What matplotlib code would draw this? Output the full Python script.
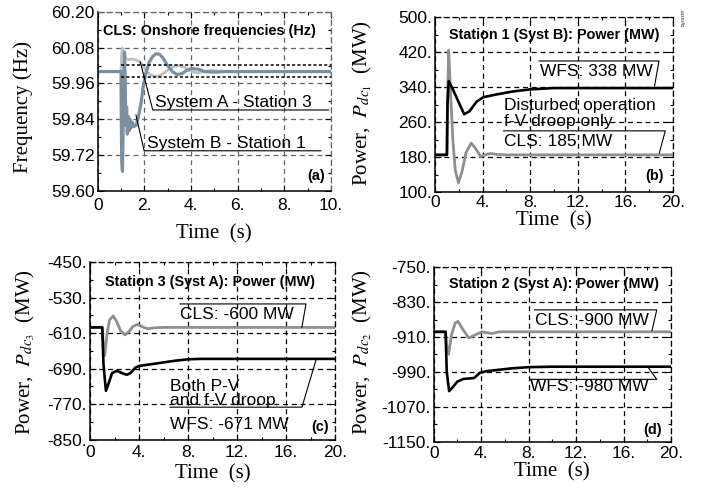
import matplotlib
matplotlib.use('Agg')
import matplotlib.pyplot as plt
import numpy as np

plt.rcParams['font.family'] = ['Liberation Sans', 'DejaVu Sans']
plt.rcParams['mathtext.fontset'] = 'stix'

# ---------------- data ----------------
# (a) onshore frequencies (Hz)
t_a_sysA = [0, 1.0, 1.02, 1.05, 1.08, 1.12, 1.2, 1.3, 1.45, 1.6, 1.75, 1.9, 2.0, 2.1, 2.25, 2.4,
            2.55, 2.7, 2.9, 3.1, 3.3, 3.5, 3.7, 3.9, 4.1, 4.3, 4.6, 4.9, 5.3, 10]
f_a_sysA = [60.0, 60.0, 60.05, 60.078, 60.075, 60.06, 60.045, 60.04, 60.042, 60.04, 60.035, 60.025,
            60.012, 60.0, 59.99, 59.985, 59.984, 59.988, 59.998, 60.01, 60.018, 60.02, 60.015, 60.005,
            59.998, 59.996, 60.0, 60.004, 60.001, 60.0]
t_a_sysB = [0, 1.0, 1.01, 1.03, 1.06, 1.09, 1.12, 1.15, 1.18, 1.21, 1.24, 1.27, 1.3, 1.34, 1.38,
            1.42, 1.48, 1.55, 1.65, 1.75, 1.85, 1.95, 2.05, 2.2, 2.35, 2.5, 2.65, 2.8, 3.0, 3.2,
            3.4, 3.6, 3.8, 4.0, 4.3, 4.6, 5.0, 5.5, 10]
f_a_sysB = [60.0, 60.0, 59.85, 59.70, 59.665, 59.80, 60.0, 60.065, 59.95, 59.82, 59.88, 59.79,
            59.85, 59.80, 59.84, 59.81, 59.83, 59.815, 59.82, 59.85, 59.89, 59.95, 59.99, 60.03,
            60.05, 60.06, 60.058, 60.045, 60.02, 60.0, 59.99, 59.993, 60.003, 60.01, 60.008,
            60.0, 59.998, 60.0, 60.0]
f_band = [60.022, 59.982]

# (b) Station 1 (Syst B) power (MW)
t_b_cls = [0, 1.0, 1.05, 1.15, 1.3, 1.5, 1.7, 1.97, 2.3, 2.6, 3.04, 3.4, 3.83, 4.2, 4.67, 5.2, 6, 20]
p_b_cls = [185, 185, 300, 425, 330, 220, 150, 121, 150, 190, 212, 200, 181, 185, 188, 186, 185, 185]
t_b_wfs = [0, 1.0, 1.05, 1.15, 1.5, 2.0, 2.45, 2.9, 3.5, 4.06, 5.1, 6.5, 8, 10, 20]
p_b_wfs = [185, 185, 300, 354, 335, 305, 278, 285, 307, 317, 323, 330, 335, 338, 338]

# (c) Station 3 (Syst A) power (MW)
t_c_cls = [0, 1.0, 1.1, 1.2, 1.4, 1.6, 1.9, 2.2, 2.5, 2.86, 3.2, 3.5, 3.9, 4.3, 4.7, 5.2, 6, 20]
p_c_cls = [-597, -597, -640, -660, -610, -580, -571, -585, -605, -614, -606, -595, -590, -596,
           -600, -598, -597, -597]
t_c_wfs = [0, 1.0, 1.1, 1.3, 1.5, 1.8, 2.2, 2.6, 3.0, 3.3, 3.7, 4.0, 5.0, 6.0, 7.0, 8.0, 9.0, 20]
p_c_wfs = [-597, -597, -680, -740, -725, -700, -695, -700, -704, -700, -688, -684, -680, -676,
           -672, -669, -668, -668]

# (d) Station 2 (Syst A) power (MW)
t_d_cls = [0, 1.0, 1.1, 1.25, 1.5, 1.8, 2.05, 2.4, 2.95, 3.5, 4.05, 4.5, 4.9, 5.5, 20]
p_d_cls = [-898, -898, -930, -950, -905, -878, -874, -890, -912, -905, -898, -900, -902, -898, -898]
t_d_wfs = [0, 1.0, 1.1, 1.3, 1.6, 2.0, 2.5, 3.0, 3.4, 3.9, 4.5, 5.5, 6.5, 8, 10, 20]
p_d_wfs = [-898, -898, -990, -1034, -1025, -1012, -1006, -1005, -1004, -992, -988, -985, -982,
           -979, -978, -978]

# ticks
xt_a = [0, 2, 4, 6, 8, 10]
xl_a = ['0', '2.', '4.', '6.', '8.', '10.']
yt_a = [59.60, 59.72, 59.84, 59.96, 60.08, 60.20]
yl_a = ['59.60', '59.72', '59.84', '59.96', '60.08', '60.20']
xt_p = [0, 4, 8, 12, 16, 20]
xl_p = ['0', '4.', '8.', '12.', '16.', '20.']
yt_b = [100, 180, 260, 340, 420, 500]
yt_c = [-850, -770, -690, -610, -530, -450]
yt_d = [-1150, -1070, -990, -910, -830, -750]

# ---------------- figure ----------------
W, H = 704, 498
fig = plt.figure(figsize=(W / 100, H / 100), dpi=100)


def px_axes(l, t, r, b):
    return fig.add_axes([l / W, 1 - b / H, (r - l) / W, (b - t) / H])


def style(ax, xt, xl, yt, yl, gc, xpad):
    ax.set_xlim(xt[0], xt[-1])
    ax.set_ylim(yt[0], yt[-1])
    ax.set_xticks(xt)
    ax.set_xticklabels(xl)
    ax.set_yticks(yt)
    ax.set_yticklabels(yl)
    ax.set_xticks([(a + b) / 2 for a, b in zip(xt[:-1], xt[1:])], minor=True)
    ax.set_yticks([(a + b) / 2 for a, b in zip(yt[:-1], yt[1:])], minor=True)
    ax.tick_params(which='both', direction='in', top=True, right=True, width=0.8,
                   labelsize=12.5, colors='black')
    ax.tick_params(which='major', length=4)
    ax.tick_params(which='minor', length=2.5)
    ax.tick_params(axis='x', pad=xpad)
    ax.tick_params(axis='y', pad=2)
    ax.grid(True, which='major', color=gc, linestyle=(0, (4, 3)), linewidth=0.9)
    ax.set_axisbelow(True)
    for s in ['left', 'bottom']:
        ax.spines[s].set_linewidth(1.1)
        ax.spines[s].set_color('black')
    for s in ['top', 'right']:
        ax.spines[s].set_linestyle((0, (4, 3)))
        ax.spines[s].set_linewidth(0.9)
        ax.spines[s].set_color(gc)


def ftext(x, y, s, **kw):
    fig.text(x / W, 1 - y / H, s, ha='center', va='center', **kw)


serif = dict(family=['Liberation Serif', 'DejaVu Serif'], fontsize=15)
bold = dict(fontsize=10.4, fontweight='bold')
ann = dict(fontsize=12.5)

# (a)
ax = px_axes(97.7, 12, 331, 190.7)
style(ax, xt_a, xl_a, yt_a, yl_a, '#666666', 5)
ax.plot(t_a_sysA, f_a_sysA, color='#c0c0c0', lw=2.0, solid_joinstyle='round')
ax.plot(t_a_sysB, f_a_sysB, color='#7b8fa1', lw=2.3, solid_joinstyle='round')
for fb in f_band:
    ax.plot([1.0, 10], [fb, fb], color='black', lw=1.1, linestyle=(0, (2, 1.5)))
ax.text(0.24, 60.123, 'CLS: Onshore frequencies (Hz)', ha='left', va='baseline', **bold)
ax.text(9.76, 59.636, '(a)', ha='right', va='baseline', **bold)
ax.plot([1.82, 2.36, 9.9], [60.033, 59.871, 59.871], color='black', lw=0.8)
ax.text(2.46, 59.880, 'System A - Station 3', ha='left', va='baseline', **ann)
ax.plot([1.64, 1.99, 9.57], [59.854, 59.734, 59.734], color='black', lw=0.8)
ax.text(2.10, 59.742, 'System B - Station 1', ha='left', va='baseline', **ann)
ftext(23, 107, 'Frequency (Hz)', rotation=90, **serif)
ftext(214, 234, 'Time  (s)', **serif)

# (b)
ax = px_axes(435, 17.3, 673, 192)
style(ax, xt_p, xl_p, yt_b, [f'{v}.' for v in yt_b], 'black', 2.5)
ax.plot(t_b_cls, p_b_cls, color='#8f8f8f', lw=2.0, solid_joinstyle='round')
ax.plot(t_b_wfs, p_b_wfs, color='black', lw=1.9, solid_joinstyle='round')
ax.text(1.15, 449.7, 'Station 1 (Syst B): Power (MW)', ha='left', va='baseline', **bold)
ax.text(19.2, 128, '(b)', ha='right', va='baseline', **bold)
ax.plot([8.74, 18.82, 18.45], [400, 400, 343], color='black', lw=0.8)
ax.text(8.82, 365.8, 'WFS: 338 MW', ha='left', va='baseline', **ann)
ax.text(5.77, 287, 'Disturbed operation', ha='left', va='baseline', **ann)
ax.text(5.77, 252, 'f-V droop only', ha='left', va='baseline', **ann)
ax.plot([5.77, 19.35, 18.85], [240, 240, 189], color='black', lw=0.8)
ax.text(5.77, 204.2, 'CLS: 185 MW', ha='left', va='baseline', **ann)
ftext(362, 103, 'Power,  $P_{dc_1}$  (MW)', rotation=90, **serif)
ftext(554, 221, 'Time  (s)', **serif)
fig.text(684 / W, 1 - 17 / H, 'DIgSILENT', rotation=90, fontsize=2.5, ha='center', va='center')

# (c)
ax = px_axes(90, 262.3, 335, 439.5)
style(ax, xt_p, xl_p, yt_c, [f'{v}.' for v in yt_c], 'black', 4)
ax.plot(t_c_cls, p_c_cls, color='#8f8f8f', lw=2.0, solid_joinstyle='round')
ax.plot(t_c_wfs, p_c_wfs, color='black', lw=1.9, solid_joinstyle='round')
ax.text(1.22, -502.8, 'Station 3 (Syst A): Power (MW)', ha='left', va='baseline', **bold)
ax.text(19.46, -830, '(c)', ha='right', va='baseline', **bold)
ax.plot([7.35, 17.63, 17.3], [-544, -544, -596.7], color='black', lw=0.8)
ax.text(7.35, -578, 'CLS: -600 MW', ha='left', va='baseline', **ann)
ax.text(6.53, -739.8, 'Both P-V', ha='left', va='baseline', **ann)
ax.text(6.53, -772, 'and f-V droop', ha='left', va='baseline', **ann)
ax.plot([6.53, 17.3, 18.45], [-777, -777, -670.5], color='black', lw=0.8)
ax.text(6.53, -826.3, 'WFS: -671 MW', ha='left', va='baseline', **ann)
ftext(25, 352, 'Power,  $P_{dc_3}$  (MW)', rotation=90, **serif)
ftext(212.5, 474, 'Time  (s)', **serif)

# (d)
ax = px_axes(433.7, 267.3, 671, 441.7)
style(ax, xt_p, xl_p, yt_d, [f'{v}.' for v in yt_d], 'black', 3)
ax.plot(t_d_cls, p_d_cls, color='#8f8f8f', lw=2.0, solid_joinstyle='round')
ax.plot(t_d_wfs, p_d_wfs, color='black', lw=1.9, solid_joinstyle='round')
ax.text(1.26, -798, 'Station 2 (Syst A): Power (MW)', ha='left', va='baseline', **bold)
ax.text(19.2, -1132, '(d)', ha='right', va='baseline', **bold)
ax.plot([8.5, 18.8, 18.4], [-847.6, -847.6, -895], color='black', lw=0.8)
ax.text(8.5, -881.9, 'CLS: -900 MW', ha='left', va='baseline', **ann)
ax.plot([8.14, 18.8, 18.05], [-1007, -1007, -978.6], color='black', lw=0.8)
ax.text(8.14, -1034, 'WFS: -980 MW', ha='left', va='baseline', **ann)
ftext(362, 352, 'Power,  $P_{dc_2}$  (MW)', rotation=90, **serif)
ftext(552, 472, 'Time  (s)', **serif)

fig.savefig('out.png', dpi=100)
